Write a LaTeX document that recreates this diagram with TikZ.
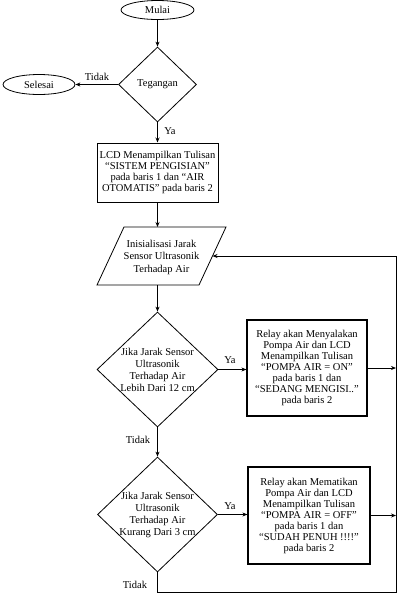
\documentclass[tikz,border=0pt]{standalone}
\usepackage{fontspec}
\setmainfont{Liberation Serif}
\usetikzlibrary{shapes.geometric,arrows.meta}
\begin{document}
\begin{tikzpicture}[x=1pt,y=-1pt,
  font=\fontsize{10.5}{11}\selectfont,
  flow/.style={line width=0.8pt,-{Stealth[length=5pt,width=4pt]}},
  plain/.style={line width=0.8pt},
  term/.style={draw,ellipse,line width=0.8pt,inner sep=0pt},
  dia/.style={draw,diamond,line width=0.8pt,inner sep=0pt},
  proc/.style={draw,rectangle,inner sep=0pt,align=center},
  txt/.style={align=center,inner sep=0pt},
  lbl/.style={inner sep=0pt}
]
\useasboundingbox (0,0) rectangle (407,598);
% nodes
\node[term,minimum width=73pt,minimum height=19pt] (mulai) at (157.5,10) {Mulai};
\node[dia,minimum width=78pt,minimum height=75pt] (teg) at (157.5,84.5) {Tegangan};
\node[term,minimum width=72pt,minimum height=20pt] (sel) at (39,84.5) {Selesai};
\node[proc,line width=1pt,minimum width=121pt,minimum height=59pt] (lcd) at (157.5,172.5)
  {LCD Menampilkan Tulisan\\“SISTEM PENGISIAN”\\pada baris 1 dan “AIR\\OTOMATIS” pada baris 2};
% parallelogram (input)
\coordinate (pTL) at (124,227);
\coordinate (pTR) at (226,227);
\coordinate (pBR) at (199,285);
\coordinate (pBL) at (97,285);
\coordinate (pE) at (212.5,256);
\draw[line width=0.8pt] (pTL) -- (pTR) -- (pBR) -- (pBL) -- cycle;
\node[txt,font=\fontsize{10.5}{12.5}\selectfont] (initt) at (161.5,257)
  {Inisialisasi Jarak\\Sensor Ultrasonik\\Terhadap Air};
\node[dia,minimum width=121pt,minimum height=115pt] (d2) at (157.5,369.5) {};
\node[txt,font=\fontsize{10.5}{12}\selectfont] (d2t) at (d2)
  {Jika Jarak Sensor\\Ultrasonik\\Terhadap Air\\Lebih Dari 12 cm};
\node[dia,minimum width=120pt,minimum height=115pt] (d3) at (157.5,514.5) {};
\node[txt,font=\fontsize{10.5}{12}\selectfont] (d3t) at (d3)
  {Jika Jarak Sensor\\Ultrasonik\\Terhadap Air\\Kurang Dari 3 cm};
\node[proc,line width=1.2pt,minimum width=120pt,minimum height=96pt] (b1) at (307,368)
  {Relay akan Menyalakan\\Pompa Air dan LCD\\Menampilkan Tulisan\\“POMPA AIR = ON”\\pada baris 1 dan\\“SEDANG MENGISI..”\\pada baris 2};
\node[proc,line width=1.2pt,minimum width=122pt,minimum height=97pt] (b2) at (309,515.5)
  {Relay akan Mematikan\\Pompa Air dan LCD\\Menampilkan Tulisan\\“POMPA AIR = OFF”\\pada baris 1 dan\\“SUDAH PENUH !!!!”\\pada baris 2};
\coordinate (rtop) at (396,256);
\coordinate (rbot) at (396,592);
\coordinate (lcdin) at (157.5,227);
\coordinate (initout) at (157.5,285);
% labels
\node[lbl] (l1) at (97,77) {Tidak};
\node[lbl] (l2) at (170,131) {Ya};
\node[lbl] (l3) at (230,360) {Ya};
\node[lbl] (l4) at (138,440) {Tidak};
\node[lbl] (l5) at (230,506) {Ya};
\node[lbl] (l6) at (135,585) {Tidak};
% connectors
\draw[flow] (mulai.south) -- (teg.north);
\draw[flow] (teg.west) -- (sel.east);
\draw[flow] (teg.south) -- (lcd.north);
\draw[flow] (lcd.south) -- (lcdin);
\draw[flow] (initout) -- (d2.north);
\draw[flow] (d2.east) -- (d2.east -| b1.west);
\draw[flow] (d2.south) -- (d3.north);
\draw[flow] (d3.east) -- (d3.east -| b2.west);
\draw[flow] (b1.east) -- (b1.east -| rtop);
\draw[flow] (b2.east) -- (b2.east -| rtop);
\draw[flow] (d3.south) -- (d3.south |- rbot) -- (rbot) -- (rtop) -- (pE);
\end{tikzpicture}
\end{document}
